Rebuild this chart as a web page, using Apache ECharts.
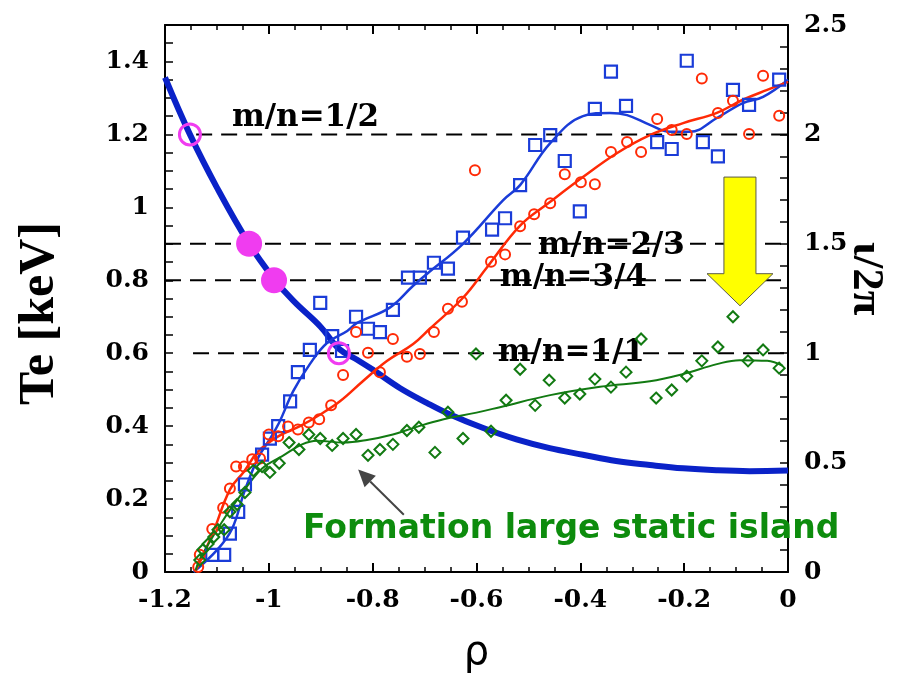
<!DOCTYPE html>
<html>
<head>
<meta charset="utf-8">
<script src="https://cdn.jsdelivr.net/npm/echarts@6/dist/echarts.min.js"></script>
<style>
  html, body { margin: 0; padding: 0; background: #fff; }
  #chart { width: 918px; height: 693px; }
</style>
</head>
<body>
<div id="chart"></div>
<script>
// ---- Tick labels ----
const rhoTicks = [-1.2, -1, -0.8, -0.6, -0.4, -0.2, 0];
const rhoTickLabels = ['-1.2', '-1', '-0.8', '-0.6', '-0.4', '-0.2', '0'];
const teTicks = [0, 0.2, 0.4, 0.6, 0.8, 1, 1.2, 1.4];
const teTickLabels = ['0', '0.2', '0.4', '0.6', '0.8', '1', '1.2', '1.4'];
const iotaTicks = [0, 0.5, 1, 1.5, 2, 2.5];
const iotaTickLabels = ['0', '0.5', '1', '1.5', '2', '2.5'];

// ---- Rotational transform profile  [rho, iota/2pi] ----
const iotaProfile = [
  [-1.2, 2.26], [-1.152, 2.0], [-1.1, 1.757], [-1.038, 1.5], [-0.99, 1.34],
  [-0.953, 1.24], [-0.9, 1.12], [-0.865, 1.02], [-0.83, 0.97], [-0.8, 0.925],
  [-0.747, 0.84], [-0.695, 0.772], [-0.651, 0.72], [-0.587, 0.658], [-0.523, 0.606],
  [-0.459, 0.566], [-0.395, 0.536], [-0.331, 0.507], [-0.266, 0.489], [-0.202, 0.474],
  [-0.138, 0.465], [-0.074, 0.461], [0, 0.464]
];

// ---- Rational surfaces ----
const surfaceNames = ['m/n=1/2', 'm/n=2/3', 'm/n=3/4', 'm/n=1/1'];
const surfaceIota = [2, 1.5, 4 / 3, 1];
const surfaceStart = [-1.14, -1.2, -1.2, -1.146];

// Crossings of the iota profile with the rational surfaces
const crossingsOpen = [[-1.152, 2.0], [-0.865, 1.0]];
const crossingsFilled = [[-1.038, 1.5], [-0.99, 4 / 3]];

// ---- Te measurements (blue squares)  [rho, keV] ----
const teSquares = [
  [-1.109, 0.047], [-1.086, 0.047], [-1.075, 0.105], [-1.059, 0.165], [-1.046, 0.24],
  [-1.013, 0.322], [-0.998, 0.366], [-0.982, 0.40], [-0.959, 0.468], [-0.944, 0.548],
  [-0.921, 0.609], [-0.901, 0.738], [-0.878, 0.647], [-0.859, 0.606], [-0.832, 0.70],
  [-0.809, 0.667], [-0.786, 0.658], [-0.761, 0.719], [-0.732, 0.807], [-0.709, 0.807],
  [-0.682, 0.848], [-0.655, 0.832], [-0.626, 0.917], [-0.570, 0.939], [-0.545, 0.970],
  [-0.516, 1.061], [-0.487, 1.171], [-0.458, 1.198], [-0.430, 1.127], [-0.401, 0.989],
  [-0.372, 1.270], [-0.341, 1.372], [-0.312, 1.278], [-0.252, 1.179], [-0.224, 1.160],
  [-0.195, 1.402], [-0.164, 1.179], [-0.135, 1.140], [-0.106, 1.322], [-0.075, 1.281],
  [-0.017, 1.350]
];
const teSquaresFit = [
  [-1.145, 0], [-1.1, 0.06], [-1.071, 0.118], [-1.046, 0.225], [-1.02, 0.315],
  [-1.0, 0.36], [-0.98, 0.41], [-0.953, 0.496], [-0.921, 0.57], [-0.888, 0.628],
  [-0.849, 0.661], [-0.83, 0.683], [-0.767, 0.725], [-0.722, 0.785], [-0.695, 0.818],
  [-0.626, 0.90], [-0.549, 1.019], [-0.516, 1.061], [-0.458, 1.176], [-0.395, 1.25],
  [-0.343, 1.259], [-0.31, 1.253], [-0.266, 1.226], [-0.227, 1.207], [-0.189, 1.207],
  [-0.137, 1.245], [-0.087, 1.286], [-0.048, 1.303], [0, 1.35]
];

// ---- Te measurements (red circles) ----
const teCircles = [
  [-1.136, 0.014], [-1.133, 0.047], [-1.109, 0.118], [-1.088, 0.176], [-1.075, 0.229],
  [-1.063, 0.289], [-1.048, 0.289], [-1.032, 0.309], [-1.017, 0.311], [-1.0, 0.377],
  [-0.982, 0.372], [-0.963, 0.399], [-0.944, 0.391], [-0.923, 0.410], [-0.903, 0.419],
  [-0.880, 0.457], [-0.857, 0.540], [-0.832, 0.658], [-0.809, 0.601], [-0.786, 0.548],
  [-0.761, 0.639], [-0.734, 0.590], [-0.709, 0.598], [-0.682, 0.658], [-0.655, 0.722],
  [-0.628, 0.741], [-0.603, 1.102], [-0.572, 0.851], [-0.545, 0.871], [-0.516, 0.948],
  [-0.489, 0.981], [-0.458, 1.011], [-0.430, 1.091], [-0.399, 1.069], [-0.372, 1.063],
  [-0.341, 1.152], [-0.310, 1.179], [-0.283, 1.152], [-0.252, 1.242], [-0.224, 1.212],
  [-0.195, 1.201], [-0.166, 1.353], [-0.135, 1.259], [-0.106, 1.292], [-0.075, 1.201],
  [-0.048, 1.361], [-0.017, 1.251]
];
const teCirclesFit = [
  [-1.142, 0], [-1.109, 0.103], [-1.075, 0.226], [-1.048, 0.275], [-1.021, 0.33],
  [-0.982, 0.372], [-0.94, 0.4], [-0.901, 0.432], [-0.863, 0.468], [-0.819, 0.523],
  [-0.772, 0.579], [-0.722, 0.625], [-0.69, 0.667], [-0.626, 0.752], [-0.58, 0.835],
  [-0.516, 0.95], [-0.458, 1.015], [-0.395, 1.083], [-0.329, 1.149], [-0.266, 1.198],
  [-0.202, 1.231], [-0.137, 1.259], [-0.087, 1.295], [-0.04, 1.322], [0, 1.344]
];

// ---- Te measurements (green diamonds) ----
const teDiamonds = [
  [-1.133, 0.033], [-1.127, 0.061], [-1.117, 0.077], [-1.106, 0.096], [-1.098, 0.116],
  [-1.086, 0.116], [-1.075, 0.165], [-1.061, 0.185], [-1.046, 0.218], [-1.030, 0.278],
  [-1.013, 0.289], [-0.998, 0.273], [-0.980, 0.298], [-0.961, 0.355], [-0.942, 0.336],
  [-0.923, 0.377], [-0.901, 0.366], [-0.878, 0.347], [-0.857, 0.366], [-0.832, 0.377],
  [-0.809, 0.320], [-0.786, 0.336], [-0.761, 0.350], [-0.734, 0.388], [-0.711, 0.397],
  [-0.680, 0.328], [-0.655, 0.438], [-0.626, 0.366], [-0.601, 0.598], [-0.572, 0.386],
  [-0.543, 0.471], [-0.516, 0.556], [-0.487, 0.457], [-0.460, 0.526], [-0.430, 0.477],
  [-0.401, 0.488], [-0.372, 0.529], [-0.341, 0.507], [-0.312, 0.548], [-0.283, 0.639],
  [-0.254, 0.477], [-0.224, 0.499], [-0.195, 0.537], [-0.166, 0.579], [-0.135, 0.617],
  [-0.106, 0.700], [-0.077, 0.579], [-0.048, 0.609], [-0.017, 0.559]
];
const teDiamondsFit = [
  [-1.142, 0], [-1.133, 0.035], [-1.09, 0.138], [-1.052, 0.215], [-1.013, 0.284],
  [-0.975, 0.317], [-0.936, 0.35], [-0.907, 0.36], [-0.857, 0.355], [-0.811, 0.362],
  [-0.761, 0.377], [-0.715, 0.398], [-0.665, 0.418], [-0.6, 0.437], [-0.555, 0.452],
  [-0.458, 0.485], [-0.362, 0.508], [-0.266, 0.523], [-0.202, 0.543], [-0.137, 0.57],
  [-0.093, 0.581], [-0.04, 0.579], [-0.01, 0.565]
];

// ---- Annotation text ----
const islandNote = 'Formation large static island';

// ---- Styling ----
const SERIF_TICK = 'DejaVu Serif';
const SERIF_TITLE = 'Liberation Serif, Times New Roman, serif';
const BLUE = '#1a3cd8';
const IOTA_BLUE = '#0a22c8';
const RED = '#ff2a06';
const GREEN = '#127a12';
const MAGENTA = '#f03cf0';

function tickLabel(ticks, labels) {
  return function (v) {
    for (let i = 0; i < ticks.length; i++) {
      if (Math.abs(ticks[i] - v) < 1e-6) return labels[i];
    }
    return '';
  };
}

const tickFont = { color: '#000', fontFamily: SERIF_TICK, fontWeight: 'bold', fontSize: 25 };
const frameLine = { onZero: false, lineStyle: { color: '#000', width: 2 } };

const chart = echarts.init(document.getElementById('chart'));

const option = {
  animation: false,
  backgroundColor: '#fff',
  grid: { left: 165, right: 130, top: 25, bottom: 121 },
  xAxis: [
    {
      type: 'value', min: -1.2, max: 0, interval: 0.2, position: 'bottom',
      axisLine: frameLine,
      axisTick: { inside: true, length: 9, lineStyle: { color: '#000', width: 2 } },
      minorTick: { show: true, splitNumber: 4, length: 5, lineStyle: { color: '#000', width: 1.5 } },
      splitLine: { show: false },
      axisLabel: Object.assign({ margin: 16, formatter: tickLabel(rhoTicks, rhoTickLabels) }, tickFont),
      name: 'ρ', nameLocation: 'middle', nameGap: 62,
      nameTextStyle: { fontFamily: 'DejaVu Sans', fontSize: 40, color: '#000' }
    },
    {
      type: 'value', min: -1.2, max: 0, interval: 0.2, position: 'top',
      axisLine: frameLine,
      axisTick: { inside: true, length: 9, lineStyle: { color: '#000', width: 2 } },
      minorTick: { show: true, splitNumber: 4, length: 5, lineStyle: { color: '#000', width: 1.5 } },
      splitLine: { show: false },
      axisLabel: { show: false }
    }
  ],
  yAxis: [
    {
      type: 'value', min: 0, max: 1.5, interval: 0.05, position: 'left',
      axisLine: Object.assign({ show: true }, frameLine),
      axisTick: { inside: true, length: 8, lineStyle: { color: '#000', width: 1.5 } },
      splitLine: { show: false },
      axisLabel: Object.assign({ margin: 16, formatter: tickLabel(teTicks, teTickLabels) }, tickFont),
      name: 'Te [keV]', nameLocation: 'middle', nameRotate: 90, nameGap: 100,
      nameTextStyle: {
        fontFamily: SERIF_TITLE, fontWeight: 'bold', fontSize: 50, color: '#000',
        padding: [0, 30, 0, 0]
      }
    },
    {
      type: 'value', min: 0, max: 2.5, interval: 0.1, position: 'right',
      axisLine: Object.assign({ show: true }, frameLine),
      axisTick: { inside: true, length: 8, lineStyle: { color: '#000', width: 1.5 } },
      splitLine: { show: false },
      axisLabel: Object.assign({ margin: 16, formatter: tickLabel(iotaTicks, iotaTickLabels) }, tickFont),
      name: 'ι/2π', nameLocation: 'middle', nameRotate: -90, nameGap: 55,
      nameMoveOverlap: false,
      nameTextStyle: {
        fontFamily: SERIF_TITLE, fontWeight: 'bold', fontSize: 45, color: '#000',
        padding: [0, 40, 0, 0]
      }
    }
  ],
  series: []
};

// Rational surface dashed lines (on the iota axis)
surfaceIota.forEach(function (iv, i) {
  option.series.push({
    type: 'line', xAxisIndex: 0, yAxisIndex: 1, name: surfaceNames[i],
    data: [[surfaceStart[i], iv], [0, iv]],
    showSymbol: false, silent: true, z: 3,
    lineStyle: { color: '#000', width: 2, type: [16, 9] }
  });
});

option.series.push(
  {
    type: 'line', yAxisIndex: 1, data: iotaProfile, smooth: 0.4, showSymbol: false, z: 4,
    lineStyle: { color: IOTA_BLUE, width: 6 }
  },
  {
    type: 'line', yAxisIndex: 0, data: teSquaresFit, smooth: 0.4, showSymbol: false, z: 4,
    lineStyle: { color: BLUE, width: 2.5 }
  },
  {
    type: 'line', yAxisIndex: 0, data: teCirclesFit, smooth: 0.4, showSymbol: false, z: 4,
    lineStyle: { color: RED, width: 2.5 }
  },
  {
    type: 'line', yAxisIndex: 0, data: teDiamondsFit, smooth: 0.4, showSymbol: false, z: 4,
    lineStyle: { color: GREEN, width: 2 }
  },
  {
    type: 'scatter', yAxisIndex: 0, data: teSquares, symbol: 'rect', symbolSize: 12, z: 5,
    itemStyle: { color: 'rgba(255,255,255,0)', borderColor: BLUE, borderWidth: 2.2, opacity: 1 }
  },
  {
    type: 'scatter', yAxisIndex: 0, data: teCircles, symbol: 'circle', symbolSize: 10, z: 5,
    itemStyle: { color: 'rgba(255,255,255,0)', borderColor: RED, borderWidth: 2, opacity: 1 }
  },
  {
    type: 'scatter', yAxisIndex: 0, data: teDiamonds, symbol: 'diamond', symbolSize: 11, z: 5,
    itemStyle: { color: 'rgba(255,255,255,0)', borderColor: GREEN, borderWidth: 2, opacity: 1 }
  },
  {
    type: 'scatter', yAxisIndex: 1, data: crossingsOpen, symbol: 'circle', symbolSize: 21, z: 6,
    itemStyle: { color: 'rgba(255,255,255,0)', borderColor: MAGENTA, borderWidth: 3, opacity: 1 }
  },
  {
    type: 'scatter', yAxisIndex: 1, data: crossingsFilled, symbol: 'circle', symbolSize: 26, z: 6,
    itemStyle: { color: MAGENTA, opacity: 1 }
  }
);

chart.setOption(option);

// ---- Annotations placed in data coordinates ----
function px(x, y, onIota) {
  return chart.convertToPixel({ xAxisIndex: 0, yAxisIndex: onIota ? 1 : 0 }, [x, y]);
}

const labelAnchors = [[-1.071, 2.073], [-0.482, 1.49], [-0.555, 1.344], [-0.559, 1.0]];
const graphics = [];

surfaceNames.forEach(function (name, i) {
  const p = px(labelAnchors[i][0], labelAnchors[i][1], true);
  graphics.push({
    type: 'text', x: p[0], y: p[1], z: 1,
    style: {
      text: name, fill: '#000', font: 'bold 31px "DejaVu Serif"',
      textAlign: 'left', textVerticalAlign: 'middle'
    }
  });
});

// Yellow arrow indicating the drop at the island
const yellowOutline = [
  [-0.1234, 1.083], [-0.0617, 1.083], [-0.0617, 0.818], [-0.029, 0.818],
  [-0.0925, 0.730], [-0.156, 0.818], [-0.1234, 0.818]
].map(function (d) { return px(d[0], d[1], false); });
graphics.push({
  type: 'polygon', z: 7,
  shape: { points: yellowOutline },
  style: { fill: '#ffff00', stroke: '#5a5a4a', lineWidth: 1 }
});

// Pointer from the note to the flattened green profile
const tail = px(-0.740, 0.157, false);
const tip = px(-0.828, 0.281, false);
const dx = tip[0] - tail[0], dy = tip[1] - tail[1];
const len = Math.sqrt(dx * dx + dy * dy);
const ux = dx / len, uy = dy / len;
const headLen = 17, headHalf = 8;
const base = [tip[0] - ux * headLen, tip[1] - uy * headLen];
graphics.push(
  {
    type: 'line', z: 7,
    shape: { x1: tail[0], y1: tail[1], x2: base[0], y2: base[1] },
    style: { stroke: '#444', lineWidth: 2 }
  },
  {
    type: 'polygon', z: 7,
    shape: {
      points: [
        tip,
        [base[0] - uy * headHalf, base[1] + ux * headHalf],
        [base[0] + uy * headHalf, base[1] - ux * headHalf]
      ]
    },
    style: { fill: '#444' }
  }
);

const notePos = px(-0.934, 0.116, false);
graphics.push({
  type: 'text', x: notePos[0], y: notePos[1], z: 7,
  style: {
    text: islandNote, fill: '#0d8c0d', font: 'bold 33px "DejaVu Sans"',
    textAlign: 'left', textVerticalAlign: 'middle'
  }
});

chart.setOption({ graphic: graphics });
</script>
</body>
</html>
